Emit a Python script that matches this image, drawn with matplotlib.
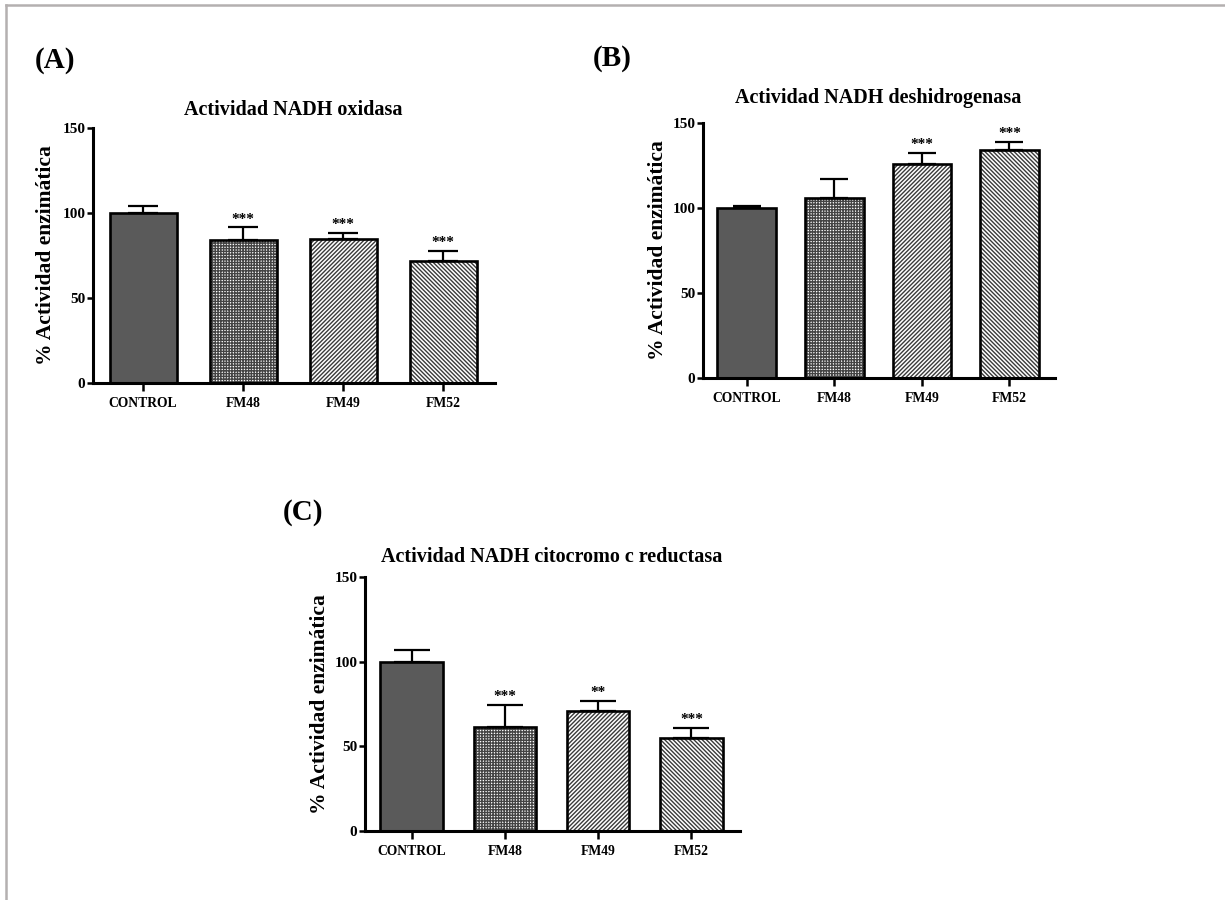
import matplotlib
matplotlib.use("Agg")
import matplotlib.pyplot as plt
from matplotlib.lines import Line2D

# ---- data -------------------------------------------------------------
groups = ["CONTROL", "FM48", "FM49", "FM52"]

oxidasa_mean = [100.0, 84.0, 84.5, 71.8]
oxidasa_sem = [4.0, 7.5, 3.8, 6.0]
oxidasa_sig = ["", "***", "***", "***"]

deshidro_mean = [100.0, 106.0, 126.0, 134.0]
deshidro_sem = [1.0, 11.0, 6.5, 5.0]
deshidro_sig = ["", "", "***", "***"]

citocromo_mean = [100.0, 61.5, 71.0, 54.7]
citocromo_sem = [7.0, 13.0, 6.0, 6.0]
citocromo_sig = ["", "***", "**", "***"]

yticks = [0, 50, 100, 150]

# ---- style ------------------------------------------------------------
plt.rcParams["font.family"] = ["Liberation Serif", "DejaVu Serif"]
plt.rcParams["font.weight"] = "bold"
plt.rcParams["hatch.linewidth"] = 1.0

fills = ["#5a5a5a", "white", "white", "white"]
hatches = [None, "++++++", "////////", "\\\\\\\\\\\\\\\\"]
hatch_colors = ["#5a5a5a", "#444444", "#3a3a3a", "#3a3a3a"]

fig = plt.figure(figsize=(12.25, 9), dpi=100)


def panel(rect, means, sems, sig, title, title_xy, letter, letter_xy,
          capsize, ylab_x):
    ax = fig.add_axes(rect)
    x = list(range(len(groups)))
    # hatched fills
    for i in x:
        ax.bar(i, means[i], width=0.67, color=fills[i], hatch=hatches[i],
               edgecolor=hatch_colors[i], linewidth=0, zorder=2)
    # outlines
    ax.bar(x, means, width=0.67, color="none", edgecolor="black",
           linewidth=1.9, zorder=3)
    ax.errorbar(x, means, yerr=[[0] * len(sems), sems], fmt="none",
                ecolor="black", elinewidth=1.6, capsize=capsize,
                capthick=1.6, zorder=4)
    for i in x:
        if sig[i]:
            ax.annotate(sig[i], (i, means[i] + sems[i]), xytext=(0, 3.5),
                        textcoords="offset points", ha="center",
                        va="baseline", fontsize=11, fontweight="bold")
    ax.set_xlim(-0.5, 3.52)
    ax.set_ylim(0, 150)
    ax.set_yticks(yticks)
    ax.set_xticks(x)
    ax.set_xticklabels(groups)
    for s in ("top", "right"):
        ax.spines[s].set_visible(False)
    for s in ("left", "bottom"):
        ax.spines[s].set_linewidth(2.2)
    ax.tick_params(axis="y", length=4, width=1.8, pad=1.5, labelsize=11)
    ax.tick_params(axis="x", length=6, width=1.8, pad=4, labelsize=9.8)
    for lab in ax.get_xticklabels() + ax.get_yticklabels():
        lab.set_fontweight("bold")
    ax.set_ylabel("% Actividad enzimática", fontsize=15.5, fontweight="bold")
    ax.yaxis.set_label_coords(ylab_x, 0.5)
    fig.text(title_xy[0], title_xy[1], title, ha="center", va="center",
             fontsize=14.5, fontweight="bold")
    fig.text(letter_xy[0], letter_xy[1], letter, ha="center", va="center",
             fontsize=21, fontweight="bold")
    return ax


W, H = 1225.0, 900.0


def rect_px(x0, x1, ytop, ybot):
    return [x0 / W, 1 - ybot / H, (x1 - x0) / W, (ybot - ytop) / H]


def pt(x, y):
    return (x / W, 1 - y / H)


panel(rect_px(93, 495, 128, 383), oxidasa_mean, oxidasa_sem, oxidasa_sig,
      "Actividad NADH oxidasa", pt(293, 110), "(A)", pt(55, 60),
      capsize=10.8, ylab_x=-0.092)
panel(rect_px(703, 1055, 123, 378), deshidro_mean, deshidro_sem, deshidro_sig,
      "Actividad NADH deshidrogenasa", pt(878, 98), "(B)", pt(612, 58),
      capsize=10, ylab_x=-0.099)
panel(rect_px(365, 740, 577, 831), citocromo_mean, citocromo_sem,
      citocromo_sig, "Actividad NADH citocromo c reductasa", pt(552, 557),
      "(C)", pt(303, 512), capsize=13, ylab_x=-0.093)

# thin grey frame along the top and left edges
fig.add_artist(Line2D([6 / W, 6 / W], [0, 1 - 5 / H], color="#b4b0b0",
                      linewidth=1.8, transform=fig.transFigure))
fig.add_artist(Line2D([6 / W, 1], [1 - 5 / H, 1 - 5 / H], color="#b4b0b0",
                      linewidth=1.8, transform=fig.transFigure))

fig.savefig("out.png", dpi=100)
